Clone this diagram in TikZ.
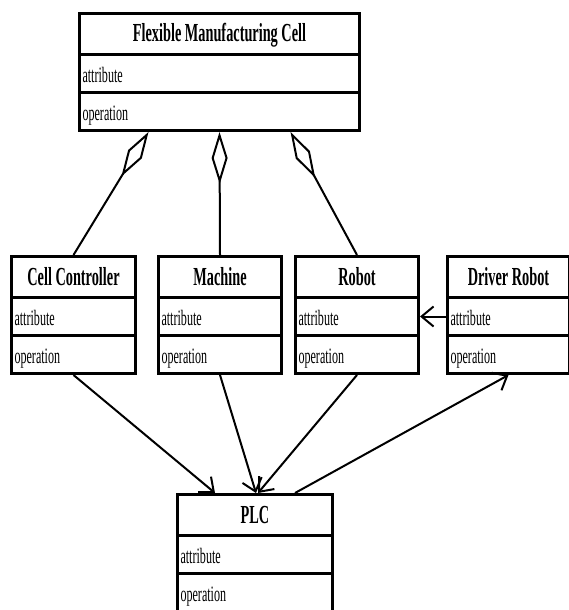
\documentclass[tikz,border=0pt]{standalone}
\usepackage{fontspec}
\setmainfont{Liberation Serif}[FakeStretch=0.55]
\usetikzlibrary{shapes.multipart, arrows.meta}

% one row of a class box: fixed height, fixed width
\newcommand{\ctitle}[2]{\rule[-11pt]{0pt}{38pt}\makebox[#1][c]{\fontsize{26}{28}\selectfont\bfseries #2}}
\newcommand{\crow}[2]{\rule[-9pt]{0pt}{35pt}\makebox[#1][l]{#2}}

\begin{document}
\begin{tikzpicture}[
    x=1pt, y=-1pt,
    class/.style={rectangle split, rectangle split parts=3, draw, line width=3pt,
        inner xsep=3pt, inner ysep=0pt, anchor=north west,
        font=\fontsize{22}{24}\selectfont},
    agg/.style={line width=2pt, {Diamond[fill=white, length=52pt, width=16pt]}-},
    dep/.style={line width=2pt, -{Straight Barb[length=12pt, width=20pt]}}
]
\useasboundingbox (0,0) rectangle (568,610);

% Classes
\node[class] (fmc) at (78,12) {\ctitle{274pt}{Flexible Manufacturing Cell}
    \nodepart{two}\crow{274pt}{attribute}
    \nodepart{three}\crow{274pt}{operation}};

\node[class] (cc) at (10,255) {\ctitle{118pt}{Cell Controller}
    \nodepart{two}\crow{118pt}{attribute}
    \nodepart{three}\crow{118pt}{operation}};

\node[class] (machine) at (157,255) {\ctitle{117pt}{Machine}
    \nodepart{two}\crow{117pt}{attribute}
    \nodepart{three}\crow{117pt}{operation}};

\node[class] (robot) at (294,255) {\ctitle{117pt}{Robot}
    \nodepart{two}\crow{117pt}{attribute}
    \nodepart{three}\crow{117pt}{operation}};

\node[class] (driver) at (446,255) {\ctitle{116pt}{Driver Robot}
    \nodepart{two}\crow{116pt}{attribute}
    \nodepart{three}\crow{116pt}{operation}};

\node[class] (plc) at (176,493) {\ctitle{149pt}{PLC}
    \nodepart{two}\crow{149pt}{attribute}
    \nodepart{three}\crow{149pt}{operation}};

% Aggregations
\draw[agg] ([xshift=-71pt]fmc.south) -- (cc.north);
\draw[agg] (fmc.south) -- (machine.north);
\draw[agg] ([xshift=71pt]fmc.south) -- (robot.north);

% Dependencies
\draw[dep] (driver.two west) -- (robot.two east);
\draw[dep] (cc.south) -- ([xshift=-40pt]plc.north);
\draw[dep] (machine.south) -- ([xshift=1pt]plc.north);
\draw[dep] (robot.south) -- ([xshift=3pt]plc.north);
\draw[dep] ([xshift=40pt]plc.north) -- (driver.south);

\end{tikzpicture}
\end{document}
